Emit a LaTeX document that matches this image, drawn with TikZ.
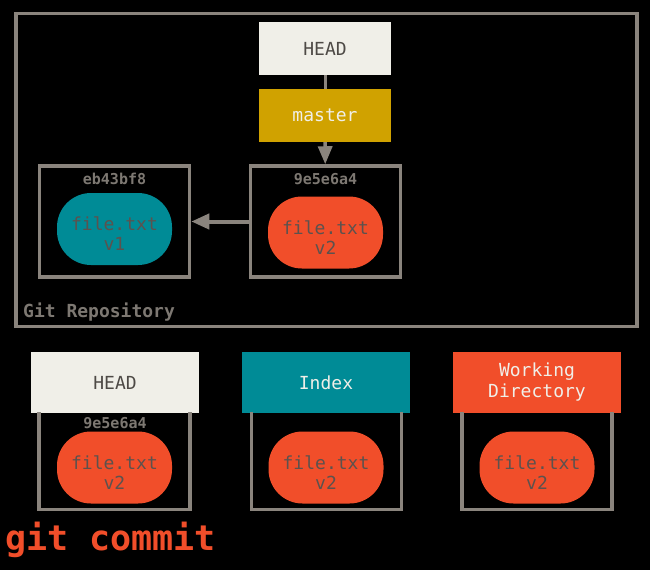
\documentclass[tikz,border=0pt]{standalone}
\usepackage{fontspec}
\setmonofont{DejaVu Sans Mono}
\usetikzlibrary{%
    positioning,%
    arrows.meta%
}
\definecolor{gitgray}{RGB}{138,132,125}
\definecolor{headfill}{RGB}{240,239,232}
\definecolor{darktext}{RGB}{78,74,70}
\definecolor{masterfill}{RGB}{208,162,0}
\definecolor{tealfill}{RGB}{0,139,150}
\definecolor{orangefill}{RGB}{241,78,42}
\definecolor{blobtext}{RGB}{92,82,78}
\definecolor{hashtext}{RGB}{125,120,114}

\tikzset{
    refbox/.style={minimum width=132pt,minimum height=53pt,inner sep=0pt,font=\ttfamily\fontsize{18}{21}\selectfont,align=center},
    areabox/.style={minimum width=168pt,minimum height=61pt,inner sep=0pt,font=\ttfamily\fontsize{18}{21}\selectfont,align=center},
    commitbox/.style={draw=gitgray,line width=3.5pt,minimum width=150pt,minimum height=111pt,inner sep=0pt},
    blob/.style={rounded corners=34pt,minimum width=115pt,minimum height=72pt,inner sep=0pt},
    blobtext/.style={text=blobtext,font=\ttfamily\fontsize{18}{20}\selectfont,align=center,inner sep=0pt,yshift=-5pt},
    hash/.style={text=hashtext,font=\ttfamily\bfseries\fontsize{15}{17}\selectfont,inner sep=0pt}
}

\begin{document}
\begin{tikzpicture}[x=1pt,y=-1pt]

\fill[black] (0,0) rectangle (650,570);
\useasboundingbox (0,0) rectangle (650,570);

% repository
\node[draw=gitgray,line width=3.5pt,minimum width=621pt,minimum height=313pt] (repo) at (326.5,170) {};
\node[anchor=base west,text=hashtext,font=\ttfamily\bfseries\fontsize{18}{20}\selectfont,inner sep=0pt] (repolabel) at (23,317) {Git Repository};

\node[refbox,fill=headfill,text=darktext] (head) at (325,48.5) {HEAD};
\node[refbox,fill=masterfill,text=headfill] (master) at (325,115.5) {master};

\node[commitbox] (c1) at (114.5,221.5) {};
\node[commitbox] (c2) at (325.5,221.5) {};
\node[hash,below=9pt of c1.north] (c1hash) {eb43bf8};
\node[hash,below=9pt of c2.north] (c2hash) {9e5e6a4};
\node[blob,fill=tealfill,label={[blobtext]center:file.txt\\v1}] (b1) at (114.5,229) {};
\node[blob,fill=orangefill,label={[blobtext]center:file.txt\\v2}] (b2) at (325.5,232.5) {};

\draw[gitgray,line width=3pt] (head) -- (master);
\draw[gitgray,line width=3.5pt,-{Triangle[length=18pt,width=14pt]}] (master) -- (c2);
\draw[gitgray,line width=4pt,-{Triangle[length=18pt,width=15pt]}] (c2) -- (c1);

% the three trees
\node[areabox,fill=headfill,text=darktext] (hhead) at (115,382.5) {HEAD};
\node[areabox,fill=tealfill,text=headfill] (hindex) at (326,382.5) {Index};
\node[areabox,fill=orangefill,text=headfill] (hwork) at (537,382.5) {Working\\Directory};

\node[minimum width=151pt,minimum height=97pt,inner sep=0pt] (fhead) at (114.5,461) {};
\node[minimum width=150pt,minimum height=97pt,inner sep=0pt] (findex) at (326.5,461) {};
\node[minimum width=150pt,minimum height=97pt,inner sep=0pt] (fwork) at (537,461) {};
\foreach \f in {fhead,findex,fwork}
    \draw[gitgray,line width=3.5pt] (\f.north west) -- (\f.south west) -- (\f.south east) -- (\f.north east);

\node[hash,below=4pt of hhead.south] (hhash) {9e5e6a4};
\node[blob,fill=orangefill,label={[blobtext]center:file.txt\\v2}] (bhead) at (114.5,467.5) {};
\node[blob,fill=orangefill,label={[blobtext]center:file.txt\\v2}] (bindex) at (326,467.5) {};
\node[blob,fill=orangefill,label={[blobtext]center:file.txt\\v2}] (bwork) at (537,467.5) {};

\node[anchor=base west,text=orangefill,font=\ttfamily\bfseries\fontsize{35}{40}\selectfont,inner sep=0pt] (cmd) at (5,550) {git commit};

\end{tikzpicture}
\end{document}
